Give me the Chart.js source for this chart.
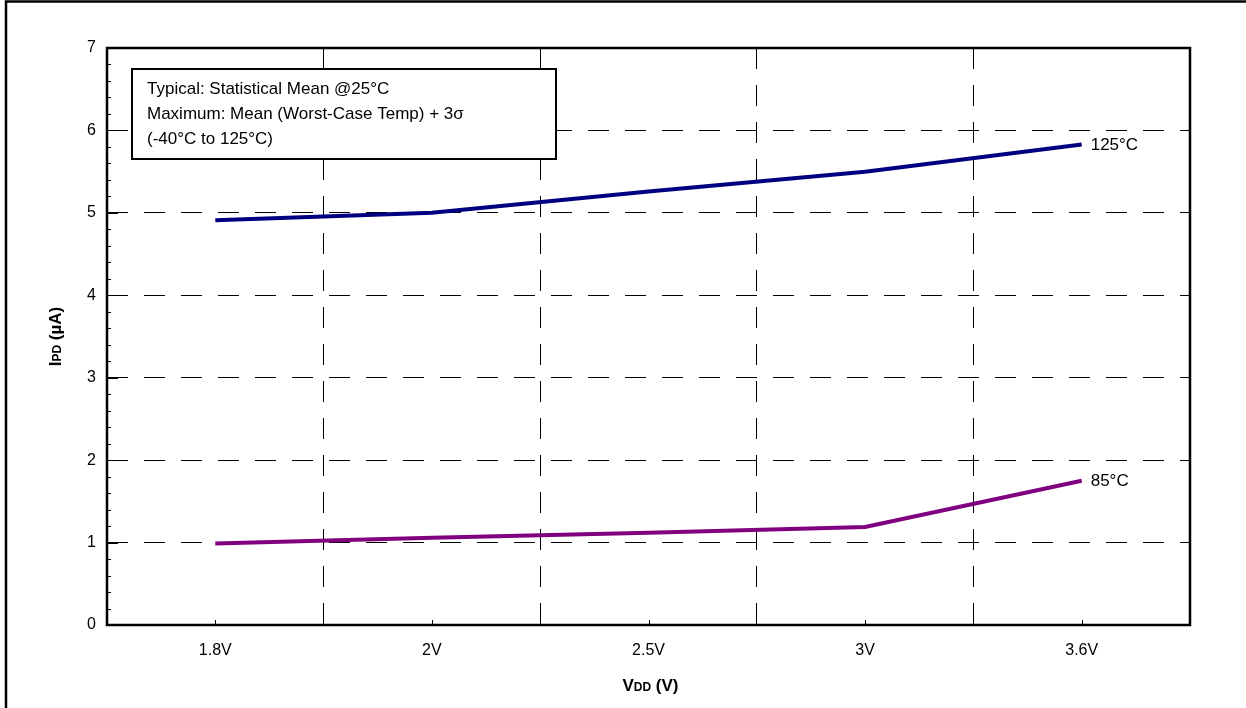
<!DOCTYPE html>
<html>
<head>
<meta charset="utf-8">
<script src="https://cdn.jsdelivr.net/npm/chart.js@4/dist/chart.umd.min.js"></script>
<style>
  body { margin: 0; background: #fff; }
  #wrap { width: 1246px; height: 708px; position: relative; }
</style>
</head>
<body>
<div id="wrap"><canvas id="ipdChart"></canvas></div>
<script>
// Chart values
const voltages = ['1.8V', '2V', '2.5V', '3V', '3.6V'];
const ipd125 = [4.91, 5.0, 5.26, 5.5, 5.83];
const ipd85 = [0.99, 1.06, 1.12, 1.19, 1.75];
const seriesLabels = ['125°C', '85°C'];
const noteLines = [
    'Typical: Statistical Mean @25°C',
    'Maximum: Mean (Worst-Case Temp) + 3σ',
    '(-40°C to 125°C)'
];

const FONT = '"Liberation Sans", Arial, sans-serif';

// white page with the outer frame (top and left edges only)
const framePlugin = {
    id: 'frame',
    beforeDraw(chart) {
        const ctx = chart.ctx;
        ctx.save();
        ctx.fillStyle = '#fff';
        ctx.fillRect(0, 0, chart.width, chart.height);
        ctx.strokeStyle = '#000';
        ctx.lineWidth = 2.5;
        ctx.beginPath();
        ctx.moveTo(6, chart.height + 5);
        ctx.lineTo(6, 1.5);
        ctx.lineTo(chart.width + 5, 1.5);
        ctx.stroke();
        ctx.restore();
    }
};

// series end labels
const endLabels = {
    id: 'endLabels',
    afterDatasetsDraw(chart) {
        const ctx = chart.ctx;
        ctx.save();
        ctx.font = '17px ' + FONT;
        ctx.fillStyle = '#000';
        ctx.textBaseline = 'middle';
        chart.data.datasets.forEach((ds, i) => {
            const pts = chart.getDatasetMeta(i).data;
            const last = pts[pts.length - 1];
            ctx.fillText(ds.label, last.x + 9, last.y + 1);
        });
        ctx.restore();
    }
};

// plot box, inward ticks, note box and axis titles
const decorations = {
    id: 'decorations',
    afterDraw(chart) {
        const ctx = chart.ctx;
        const a = chart.chartArea;
        const xs = chart.scales.x, ys = chart.scales.y;
        ctx.save();
        ctx.strokeStyle = '#000';

        // ticks on y
        ctx.lineWidth = 1;
        ctx.beginPath();
        for (let k = 0; k <= 35; k++) {
            const y = Math.round(ys.getPixelForValue(k / 5)) + 0.5;
            const len = k % 5 === 0 ? 11 : 4;
            ctx.moveTo(a.left, y);
            ctx.lineTo(a.left + len, y);
        }
        // ticks on x
        voltages.forEach((v, i) => {
            const x = Math.round(xs.getPixelForValue(i)) + 0.5;
            ctx.moveTo(x, a.bottom);
            ctx.lineTo(x, a.bottom - 5);
        });
        ctx.stroke();

        // plot box
        ctx.lineWidth = 2.5;
        ctx.strokeRect(a.left, a.top, a.right - a.left, a.bottom - a.top);

        // note box
        const bx = a.left + 25, by = a.top + 21, bw = 424, bh = 90;
        ctx.fillStyle = '#fff';
        ctx.fillRect(bx, by, bw, bh);
        ctx.lineWidth = 2;
        ctx.strokeRect(bx, by, bw, bh);
        ctx.fillStyle = '#000';
        ctx.font = '17px ' + FONT;
        ctx.textBaseline = 'middle';
        noteLines.forEach((t, i) => ctx.fillText(t, bx + 15, by + 20 + i * 25));

        // axis titles with small subscript-like letters
        const big = 'bold 17px ' + FONT, small = 'bold 12px ' + FONT;
        function drawParts(parts, cx, cy) {
            let total = 0;
            parts.forEach(p => { ctx.font = p[1]; total += ctx.measureText(p[0]).width; });
            let x = cx - total / 2;
            ctx.textBaseline = 'alphabetic';
            parts.forEach(p => {
                ctx.font = p[1];
                ctx.fillText(p[0], x, cy);
                x += ctx.measureText(p[0]).width;
            });
        }
        drawParts([['V', big], ['DD', small], [' (V)', big]], (a.left + a.right) / 2 + 2, 691);
        ctx.save();
        ctx.translate(61, (a.top + a.bottom) / 2);
        ctx.rotate(-Math.PI / 2);
        drawParts([['I', big], ['PD', small], [' (µA)', big]], 0, 0);
        ctx.restore();

        ctx.restore();
    }
};

function renderIpdChart() {
    const ctx = document.getElementById('ipdChart').getContext('2d');
    new Chart(ctx, {
        type: 'line',
        data: {
            labels: voltages,
            datasets: [{
                label: seriesLabels[0],
                data: ipd125,
                borderColor: '#000080',
                backgroundColor: '#000080',
                borderWidth: 4,
                pointRadius: 0,
                tension: 0
            }, {
                label: seriesLabels[1],
                data: ipd85,
                borderColor: '#800080',
                backgroundColor: '#800080',
                borderWidth: 4,
                pointRadius: 0,
                tension: 0
            }]
        },
        options: {
            responsive: true,
            maintainAspectRatio: false,
            animation: false,
            layout: { padding: { top: 48, right: 56, left: 0, bottom: 0 } },
            plugins: {
                legend: { display: false },
                tooltip: { enabled: false }
            },
            scales: {
                x: {
                    offset: true,
                    afterFit(s) { s.height = 83; },
                    grid: { offset: true, color: '#000', lineWidth: 1, drawTicks: false },
                    border: { display: false, dash: [21, 16] },
                    ticks: { padding: 16, color: '#000', font: { size: 16, family: FONT } }
                },
                y: {
                    min: 0,
                    max: 7,
                    afterFit(s) { s.width = 107; },
                    grid: {
                        drawTicks: false,
                        lineWidth: 1,
                        color: c => (c.tick && (c.tick.value === 0 || c.tick.value === 7)) ? 'rgba(0,0,0,0)' : '#000'
                    },
                    border: { display: false, dash: [21, 16] },
                    ticks: { stepSize: 1, padding: 11, color: '#000', font: { size: 16, family: FONT } }
                }
            }
        },
        plugins: [framePlugin, endLabels, decorations]
    });
}

document.addEventListener('DOMContentLoaded', renderIpdChart);
</script>
</body>
</html>
